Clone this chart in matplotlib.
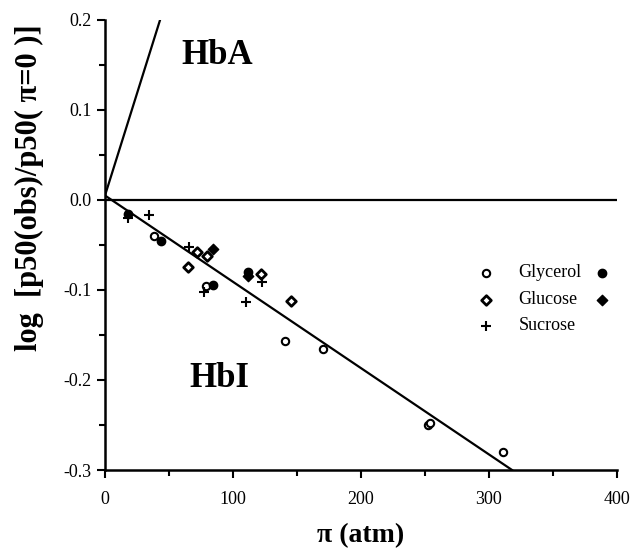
import matplotlib
matplotlib.use("Agg")
import matplotlib.pyplot as plt
from matplotlib.ticker import MultipleLocator

# Data
gly_open_x = [38, 79, 141, 170, 252, 254, 311]
gly_open_y = [-0.040, -0.096, -0.157, -0.166, -0.250, -0.248, -0.280]
gly_fill_x = [18, 44, 84, 112]
gly_fill_y = [-0.016, -0.046, -0.094, -0.080]
glu_open_x = [65, 72, 80, 122, 145]
glu_open_y = [-0.074, -0.058, -0.062, -0.082, -0.112]
glu_fill_x = [84, 112]
glu_fill_y = [-0.054, -0.084]
suc_x = [18, 34, 66, 77, 110, 123]
suc_y = [-0.020, -0.017, -0.052, -0.102, -0.113, -0.091]

hba_x = [0, 43]
hba_y = [0.005, 0.2]
hbi_x = [0, 318]
hbi_y = [0.005, -0.3]
zero_x = [0, 400]
zero_y = [0, 0]

plt.rcParams['font.family'] = ['Liberation Serif', 'DejaVu Serif']

fig = plt.figure(figsize=(6.32, 5.5), dpi=100)
ax = fig.add_axes([105/632, 1-470/550, 512/632, 450/550])

ax.plot(hba_x, hba_y, color='black', lw=1.6)
ax.plot(hbi_x, hbi_y, color='black', lw=1.6)
ax.plot(zero_x, zero_y, color='black', lw=1.6)

ax.scatter(gly_open_x, gly_open_y, marker='o', s=28, facecolor='white', edgecolor='black', lw=1.5, zorder=3)
ax.scatter(gly_fill_x, gly_fill_y, marker='o', s=36, color='black', zorder=3)
ax.scatter(glu_open_x, glu_open_y, marker='D', s=24, facecolor='white', edgecolor='black', lw=2, zorder=3)
ax.scatter(glu_fill_x, glu_fill_y, marker='D', s=28, color='black', zorder=3)
ax.scatter(suc_x, suc_y, marker='+', s=60, color='black', lw=1.5, zorder=3)

ax.set_xlim(0, 400)
ax.set_ylim(-0.3, 0.2)
ax.spines['top'].set_visible(False)
ax.spines['right'].set_visible(False)
ax.spines['left'].set_linewidth(1.8)
ax.spines['bottom'].set_linewidth(1.8)
ax.xaxis.set_major_locator(MultipleLocator(100))
ax.xaxis.set_minor_locator(MultipleLocator(50))
ax.yaxis.set_major_locator(MultipleLocator(0.1))
ax.yaxis.set_minor_locator(MultipleLocator(0.05))
ax.tick_params(which='both', direction='out', width=1.5, labelsize=13)
ax.tick_params(which='major', length=6)
ax.tick_params(which='minor', length=4)
ax.tick_params(axis='x', pad=9)
ax.set_yticklabels([f"{v:.1f}" for v in ax.get_yticks()])

ax.set_xlabel('π (atm)', fontsize=20, fontweight='bold')
ax.xaxis.set_label_coords(0.5, -0.118)
ax.set_ylabel('log  [p50(obs)/p50( π=0 )]', fontsize=22, fontweight='bold')
ax.yaxis.set_label_coords(-0.12, 0.627)

ax.text(60, 0.16, 'HbA', fontsize=25, fontweight='bold', va='center')
ax.text(66, -0.198, 'HbI', fontsize=25, fontweight='bold', va='center')

# legend
lx_sym, lx_txt, lx_fill = 298, 323, 388
rows = [-0.081, -0.111, -0.140]
ax.scatter([lx_sym], [rows[0]], marker='o', s=28, facecolor='white', edgecolor='black', lw=1.5)
ax.scatter([lx_fill], [rows[0]], marker='o', s=36, color='black')
ax.scatter([lx_sym], [rows[1]], marker='D', s=24, facecolor='white', edgecolor='black', lw=2)
ax.scatter([lx_fill], [rows[1]], marker='D', s=28, color='black')
ax.scatter([lx_sym], [rows[2]], marker='+', s=60, color='black', lw=1.5)
for r, t in zip(rows, ['Glycerol', 'Glucose', 'Sucrose']):
    ax.text(lx_txt, r, t, fontsize=13, va='center')

fig.savefig('out.png', dpi=100)
